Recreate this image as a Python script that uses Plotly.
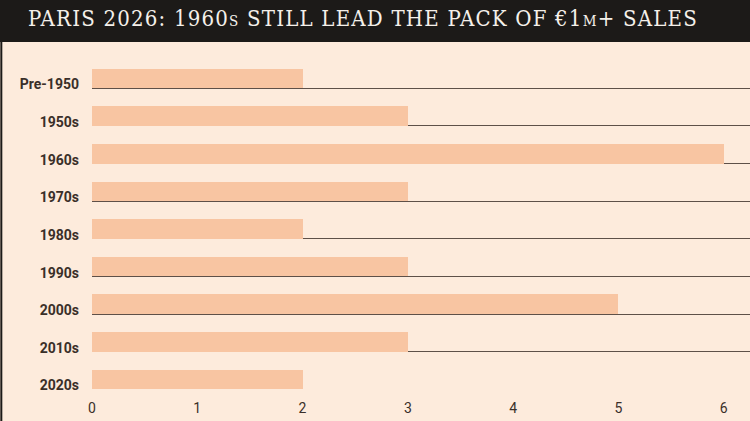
import plotly.graph_objects as go

categories = ["Pre-1950", "1950s", "1960s", "1970s", "1980s", "1990s", "2000s", "2010s", "2020s"]
sales = [2, 3, 6, 3, 2, 3, 5, 3, 2]
x_ticks = [0, 1, 2, 3, 4, 5, 6]
title_text = "PARIS 2026: 1960s STILL LEAD THE PACK OF €1m+ SALES"

BG = "#fdebdc"
BAR = "#f8c5a2"
GRID = "#5e5048"
HEADER = "#1c1a18"
TEXT = "#3a2f29"

pos = list(range(len(categories)))

fig = go.Figure()
fig.add_trace(go.Bar(
    x=sales, y=pos, orientation="h",
    width=0.52, offset=-0.52,
    marker=dict(color=BAR, line=dict(width=0)),
    hoverinfo="skip",
))

W, H = 750, 421
t, b, l, r = 65, 31, 92, 0
ph = H - t - b
header_px = 42
y_header = 1 + (t - header_px) / ph

fig.update_layout(
    width=W, height=H,
    margin=dict(l=l, r=r, t=t, b=b),
    paper_bgcolor=BG, plot_bgcolor=BG,
    showlegend=False,
    bargap=0,
    hovermode=False,
    title=dict(
        text=title_text,
        x=363 / W, xanchor="center", xref="container",
        y=1 - 18 / H, yanchor="middle", yref="container",
        font=dict(family="DejaVu Serif", size=22, color="#f4f0ea", variant="small-caps"),
    ),
    xaxis=dict(
        range=[0, 6.25], tickvals=x_ticks, ticktext=[str(v) for v in x_ticks],
        showgrid=False, zeroline=False, showline=False, ticks="",
        tickfont=dict(family="Roboto", size=14, color=TEXT),
        ticklabelstandoff=8,
    ),
    yaxis=dict(
        range=[8.02, -0.62],
        tickvals=[p - 0.1 for p in pos], ticktext=categories,
        showgrid=False, zeroline=False, showline=False, ticks="",
        tickfont=dict(family="Roboto", size=14, color=TEXT, weight="bold"),
        ticklabelstandoff=12,
        minor=dict(tickvals=pos, showgrid=True, gridcolor=GRID, gridwidth=1.3, ticks=""),
    ),
    shapes=[
        dict(type="rect", xref="paper", yref="paper", x0=-1, x1=2, y0=y_header, y1=2,
             fillcolor=HEADER, line=dict(width=0), layer="below"),
        dict(type="line", xref="paper", yref="paper", x0=-l / (W - l - r) + 0.002, x1=-l / (W - l - r) + 0.002,
             y0=-1, y1=y_header, line=dict(color=HEADER, width=2), layer="below"),
    ],
)

post = """
document.body.style.margin='0';
document.body.style.overflow='hidden';
var st = document.createElement('style');
st.textContent = '.gtitle{font-stretch:condensed !important; letter-spacing:1.2px !important;}';
document.head.appendChild(st);
"""

fig.write_html("out.html", post_script=post, config={"displayModeBar": False})
